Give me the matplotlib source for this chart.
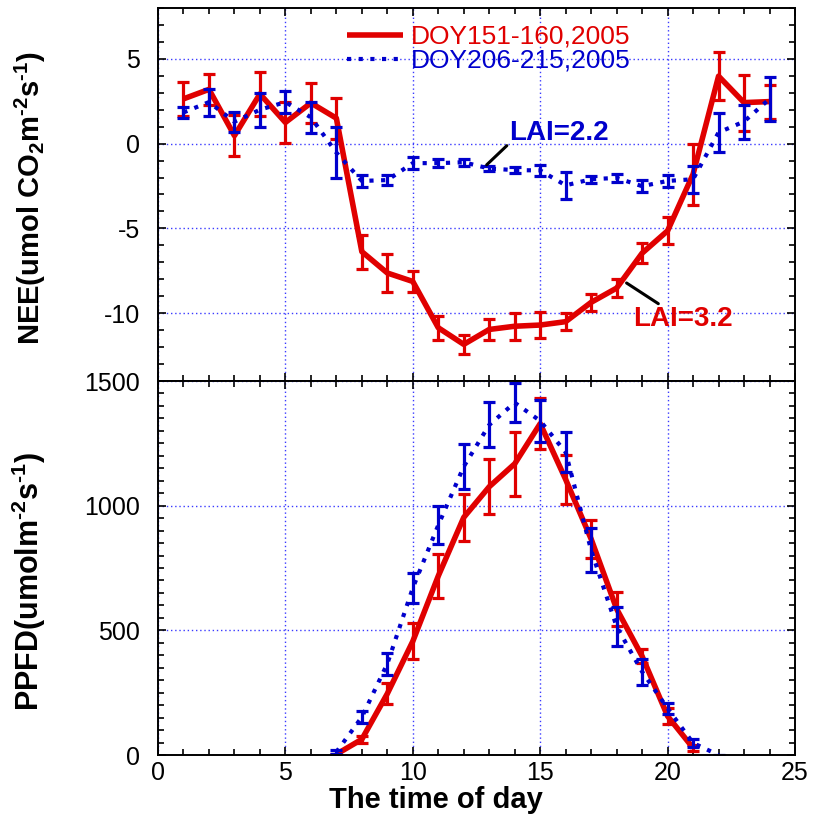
import matplotlib
matplotlib.use("Agg")
import matplotlib.pyplot as plt
from matplotlib.ticker import MultipleLocator

# Hour of day
hours = list(range(1, 25))

# NEE, DOY151-160 2005 (mean and error)
nee_early = [2.64, 3.2, 0.47, 2.93, 1.25, 2.4, 1.5, -6.37, -7.63, -8.13, -10.86, -11.84,
             -10.96, -10.77, -10.7, -10.5, -9.36, -8.52, -6.46, -5.14, -1.8, 3.98, 2.42, 2.48]
nee_early_err = [1.0, 0.9, 1.2, 1.3, 1.2, 1.2, 1.2, 1.0, 1.1, 0.6, 0.7, 0.55,
                 0.6, 0.8, 0.75, 0.5, 0.5, 0.55, 0.6, 0.8, 1.8, 1.4, 1.65, 1.0]

# NEE, DOY206-215 2005 (mean and error)
nee_late = [1.84, 2.45, 1.29, 2.0, 2.45, 1.55, -0.53, -2.2, -2.15, -1.15, -1.15, -1.1,
            -1.47, -1.56, -1.58, -2.46, -2.1, -2.02, -2.51, -2.2, -2.1, 0.66, 1.3, 2.64]
nee_late_err = [0.3, 0.8, 0.6, 1.0, 0.65, 0.9, 1.5, 0.37, 0.3, 0.35, 0.25, 0.22,
                0.15, 0.18, 0.3, 0.78, 0.22, 0.25, 0.35, 0.35, 0.8, 1.17, 1.0, 1.3]

# PPFD daytime hours
hours_ppfd_early = list(range(7, 22))
ppfd_early = [3, 63, 246, 456, 718, 953, 1076, 1168, 1329, 1105, 866, 586, 396, 156, 28]
ppfd_early_err = [3, 15, 41, 72, 89, 94, 110, 129, 102, 98, 77, 69, 28, 31, 11]

hours_ppfd_late = list(range(7, 23))
ppfd_late = [12, 152, 366, 670, 922, 1157, 1324, 1413, 1340, 1214, 821, 515, 334, 187, 48, 0]
ppfd_late_err = [8, 25, 45, 59, 76, 90, 90, 78, 85, 80, 88, 78, 53, 23, 15, 2]

labels = ["DOY151-160,2005", "DOY206-215,2005"]

RED = "#e00000"
BLUE = "#0000cc"
GRID = "#3a3aff"

plt.rcParams.update({
    "font.family": ["Liberation Sans", "DejaVu Sans"],
    "axes.unicode_minus": False,
    "mathtext.fontset": "custom",
    "mathtext.rm": "Liberation Sans:bold",
    "mathtext.bf": "Liberation Sans:bold",
    "mathtext.it": "Liberation Sans:bold:italic",
})

fig = plt.figure(figsize=(8.17, 8.16), dpi=100)
ax1 = fig.add_axes([0.19339, 0.53309, 0.77968, 0.45711])
ax2 = fig.add_axes([0.19339, 0.07475, 0.77968, 0.45833])


def draw_series(ax, x, y, err, color, dotted):
    if dotted:
        line, = ax.plot(x, y, color=color, lw=3.0, linestyle=(0, (1, 1.8)),
                        dash_capstyle="butt", zorder=4)
    else:
        line, = ax.plot(x, y, color=color, lw=4.0, solid_joinstyle="round",
                        solid_capstyle="butt", zorder=3)
    ax.errorbar(x, y, yerr=err, fmt="none", ecolor=color, elinewidth=2.3,
                capsize=4.2, capthick=2.3, zorder=4 if dotted else 3)
    return line


l1 = draw_series(ax1, hours, nee_early, nee_early_err, RED, False)
l2 = draw_series(ax1, hours, nee_late, nee_late_err, BLUE, True)
draw_series(ax2, hours_ppfd_early, ppfd_early, ppfd_early_err, RED, False)
draw_series(ax2, hours_ppfd_late, ppfd_late, ppfd_late_err, BLUE, True)

for ax in (ax1, ax2):
    ax.set_xlim(0, 25)
    ax.xaxis.set_major_locator(MultipleLocator(5))
    ax.xaxis.set_minor_locator(MultipleLocator(1))
    ax.tick_params(axis="both", which="both", direction="in", top=True, right=True,
                   width=1.2, labelsize=18)
    ax.tick_params(axis="both", which="major", length=6)
    ax.tick_params(axis="both", which="minor", length=4.5)
    ax.tick_params(axis="y", pad=13)
    ax.tick_params(axis="x", pad=4.5)
    ax.grid(True, which="major", color=GRID, linestyle=(0, (1, 2)), lw=1.0)
    for s in ax.spines.values():
        s.set_linewidth(1.4)
        s.set_zorder(6)

ax1.set_ylim(-14, 8)
ax1.yaxis.set_major_locator(MultipleLocator(5))
ax1.yaxis.set_minor_locator(MultipleLocator(1))
ax1.tick_params(axis="x", labelbottom=False)

ax2.set_ylim(0, 1500)
ax2.yaxis.set_major_locator(MultipleLocator(500))
ax2.yaxis.set_minor_locator(MultipleLocator(50))

ax1.set_ylabel(r"NEE(umol CO$_\mathbf{2}$m$^\mathrm{\text{-2}}$s$^\mathrm{\text{-1}}$)",
               fontsize=21, fontweight="bold")
ax1.yaxis.set_label_coords(-0.173, 0.49)
ax2.set_ylabel(r"PPFD(umolm$^\mathrm{\text{-2}}$s$^\mathrm{\text{-1}}$)",
               fontsize=22, fontweight="bold")
ax2.yaxis.set_label_coords(-0.173, 0.464)
ax2.set_xlabel("The time of day", fontsize=21, fontweight="bold")
ax2.xaxis.set_label_coords(0.436, -0.082)

leg = ax1.legend(handles=[l1, l2], labels=labels, loc="upper left",
                 bbox_to_anchor=(0.297, 0.955), frameon=False, fontsize=19,
                 handlelength=2.1, handletextpad=0.3, labelspacing=0.0,
                 borderpad=0, borderaxespad=0)
for txt, col in zip(leg.get_texts(), (RED, BLUE)):
    txt.set_color(col)

ax1.annotate("LAI=2.2", xy=(12.9, -1.25), xytext=(13.8, 0.65), color=BLUE,
             fontsize=20, fontweight="bold", ha="left", va="center",
             arrowprops=dict(arrowstyle="-", color="black", lw=2.2,
                             relpos=(0.0, 0.1), shrinkA=0, shrinkB=0), zorder=7)
ax1.annotate("LAI=3.2", xy=(18.39, -8.22), xytext=(18.63, -10.37), color=RED,
             fontsize=20, fontweight="bold", ha="left", va="center",
             arrowprops=dict(arrowstyle="-", color="black", lw=2.2,
                             relpos=(0.32, 0.95), shrinkA=0, shrinkB=0), zorder=7)

fig.savefig("out.png", dpi=100)
